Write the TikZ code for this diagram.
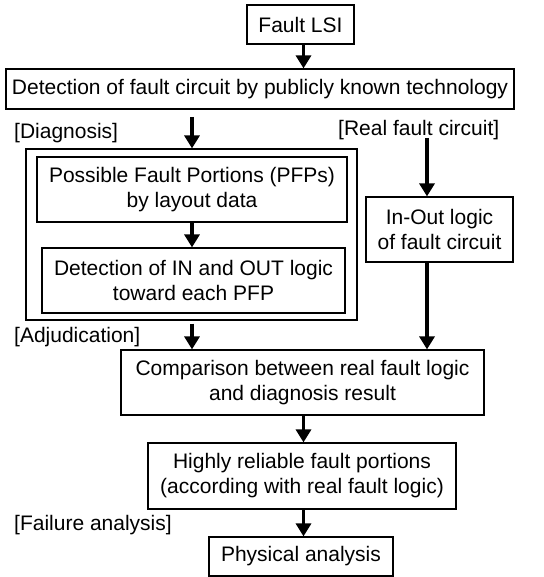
\documentclass[tikz,border=0pt]{standalone}
\usepackage{fontspec}
\setmainfont{Liberation Sans}
\usetikzlibrary{arrows.meta}
\begin{document}
\begin{tikzpicture}[x=1pt,y=-1pt,
  box/.style={draw, line width=1.2pt, inner sep=0pt, align=center, font=\fontsize{21}{25}\selectfont},
  arr/.style={line width=3.3pt, -{Triangle[length=13pt,width=15pt]}},
  lbl/.style={font=\fontsize{21}{25}\selectfont, inner sep=0pt, anchor=west}]
\useasboundingbox (0,0) rectangle (543,577);
\node[box, minimum width=107pt, minimum height=39pt] (lsi) at (300.5,24.5) {Fault LSI};
\node[box, minimum width=508pt, minimum height=40pt] (det) at (260,89) {Detection of fault circuit by publicly known technology};
\node[draw, line width=1.2pt, inner sep=0pt, minimum width=331pt, minimum height=171pt] (outer) at (191.5,234.5) {};
\node[box, minimum width=310pt, minimum height=65pt] (pfp) at (192,189.5) {Possible Fault Portions (PFPs)\\by layout data};
\node[box, minimum width=303pt, minimum height=65pt] (inout) at (193.5,280.5) {Detection of IN and OUT logic\\toward each PFP};
\node[box, minimum width=147pt, minimum height=65pt] (real) at (439.5,229.5) {In-Out logic\\of fault circuit};
\node[box, minimum width=363pt, minimum height=65pt] (comp) at (302.5,382.5) {Comparison between real fault logic\\and diagnosis result};
\node[box, minimum width=308pt, minimum height=66pt] (high) at (302,476) {Highly reliable fault portions\\(according with real fault logic)};
\node[box, minimum width=184pt, minimum height=39pt] (phys) at (301,556.5) {Physical analysis};
\node[lbl] (ldiag) at (14,133) {[Diagnosis]};
\node[lbl] (lreal) at (338,130) {[Real fault circuit]};
\node[lbl] (ladj) at (14,337) {[Adjudication]};
\node[lbl] (lfail) at (14,525) {[Failure analysis]};
\coordinate (lt) at (192,117);
\coordinate (rt) at (427,138);
\coordinate (mt) at (303.5,0);
\draw[arr] (mt |- lsi.south) -- (mt |- det.north);
\draw[arr] (lt) -- (lt |- outer.north);
\draw[arr] (lt |- pfp.south) -- (lt |- inout.north);
\draw[arr] ([yshift=-3pt]lt |- outer.south) -- (lt |- comp.north);
\draw[arr] (rt) -- (rt |- real.north);
\draw[arr] (rt |- real.south) -- (rt |- comp.north);
\draw[arr] (mt |- comp.south) -- (mt |- high.north);
\draw[arr] (mt |- high.south) -- (mt |- phys.north);
\end{tikzpicture}
\end{document}
